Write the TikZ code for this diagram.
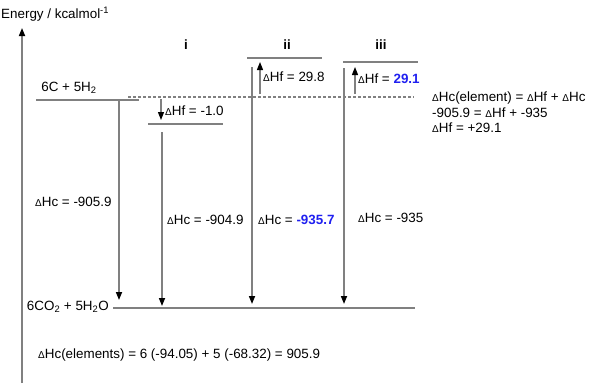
\documentclass[tikz,border=0pt]{standalone}
\usepackage{fontspec}
\setmainfont{Liberation Sans}
\usetikzlibrary{arrows.meta}
\definecolor{lvl}{HTML}{808080}
\definecolor{hl}{HTML}{2020F0}
\newcommand{\dl}{{\fontsize{10}{10}\selectfont Δ}}

\begin{document}
\begin{tikzpicture}[x=1pt, y=-1pt, font=\fontsize{13.4}{15}\selectfont,
    level/.style={draw=lvl, line width=2pt},
    enth/.style={draw=lvl, line width=1.6pt, -{Triangle[black, length=8pt, width=6pt]}},
    txt/.style={anchor=west, inner sep=0pt}]
  \useasboundingbox (0,0) rectangle (593,386);

  % axis
  \node[txt] (energy) at (1,14) {Energy / kcalmol\textsuperscript{-1}};
  \coordinate (axbot) at (22,383);
  \coordinate (axtop) at (22,28);
  \draw[enth] (axbot) -- (axtop);

  % energy levels
  \coordinate (elL) at (36,100);  \coordinate (elR) at (139,100);
  \coordinate (iL) at (148,124);  \coordinate (iR) at (223,124);
  \coordinate (iiL) at (247,58);  \coordinate (iiR) at (322,58);
  \coordinate (iiiL) at (343,62); \coordinate (iiiR) at (418,62);
  \coordinate (prL) at (113,308); \coordinate (prR) at (415,308);
  \coordinate (refL) at (128,97); \coordinate (refR) at (414,97);
  \draw[level] (elL) -- (elR);
  \draw[level] (iL) -- (iR);
  \draw[level] (iiL) -- (iiR);
  \draw[level] (iiiL) -- (iiiR);
  \draw[level] (prL) -- (prR);
  \draw[lvl, line width=1.2pt, dash pattern=on 2.5pt off 2.5pt] (refL) -- (refR);

  \node (elem) at (69,88) {6C + 5H\textsubscript{2}};
  \node[anchor=east, inner sep=0pt] (prod) at (109,307) {6CO\textsubscript{2} + 5H\textsubscript{2}O};
  \node[font=\fontsize{13.4}{15}\selectfont\bfseries] (ni) at (186,45) {i};
  \node[font=\fontsize{13.4}{15}\selectfont\bfseries] (nii) at (287,45) {ii};
  \node[font=\fontsize{13.4}{15}\selectfont\bfseries] (niii) at (381,45) {iii};

  % combustion arrows
  \coordinate (c0a) at (119,101);  \coordinate (c0b) at (119,300);
  \coordinate (c1a) at (162,132);  \coordinate (c1b) at (162,306);
  \coordinate (c2a) at (252,67);   \coordinate (c2b) at (252,304);
  \coordinate (c3a) at (344,68);   \coordinate (c3b) at (344,304);
  \draw[enth] (c0a) -- (c0b);
  \draw[enth] (c1a) -- (c1b);
  \draw[enth] (c2a) -- (c2b);
  \draw[enth] (c3a) -- (c3b);

  % formation arrows
  \coordinate (f1a) at (161,99);  \coordinate (f1b) at (161,120);
  \coordinate (f2a) at (260,94);  \coordinate (f2b) at (260,62);
  \coordinate (f3a) at (355,94);  \coordinate (f3b) at (355,67);
  \draw[enth, line width=1.3pt] (f1a) -- (f1b);
  \draw[enth, line width=1.3pt] (f2a) -- (f2b);
  \draw[enth, line width=1.3pt] (f3a) -- (f3b);

  \node[txt] (hf1) at (165,111) {\dl Hf = -1.0};
  \node[txt] (hf2) at (263,77) {\dl Hf = 29.8};
  \node[txt] (hf3) at (358,79) {\dl Hf = \textcolor{hl}{\bfseries 29.1}};

  \node[txt] (hc0) at (35,202) {\dl Hc = -905.9};
  \node[txt] (hc1) at (167,220) {\dl Hc = -904.9};
  \node[txt] (hc2) at (258,220) {\dl Hc = \textcolor{hl}{\bfseries -935.7}};
  \node[txt] (hc3) at (358,218) {\dl Hc = -935};

  % working
  \node[txt] (w1) at (432,98) {\dl Hc(element) = \dl Hf + \dl Hc};
  \node[txt] (w2) at (432,113) {-905.9 = \dl Hf + -935};
  \node[txt] (w3) at (432,128) {\dl Hf = +29.1};
  \node[txt] (sum) at (38,355) {\dl Hc(elements) = 6 (-94.05) + 5 (-68.32) = 905.9};
\end{tikzpicture}
\end{document}
